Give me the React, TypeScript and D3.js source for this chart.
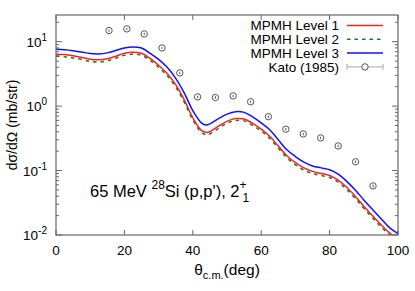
import React, { useEffect, useRef } from 'react';
import * as d3 from 'd3';

// angles (deg) for the calculated curves
const theta = [0, 2.5, 5, 7.5, 10, 12.5, 15, 17.5, 20, 22.5, 25, 27.5, 30, 32.5, 35, 37.5, 40, 42.5, 44, 45, 47.5, 50, 52.5, 55, 57.5, 60, 62.5, 65, 67.5, 70, 72.5, 75, 77.5, 80, 82.5, 85, 87.5, 90, 92.5, 95, 97.5, 100];
const level1 = [6.4, 6.3, 6.05, 5.7, 5.35, 5.25, 5.45, 5.95, 6.6, 6.85, 6.6, 5.5, 4.3, 3.2, 2.15, 1.25, 0.66, 0.42, 0.39, 0.40, 0.49, 0.58, 0.64, 0.63, 0.54, 0.44, 0.34, 0.24, 0.17, 0.133, 0.110, 0.097, 0.090, 0.084, 0.071, 0.055, 0.040, 0.028, 0.020, 0.0145, 0.0108, 0.0085];
const level2 = [5.95, 5.85, 5.6, 5.3, 4.95, 4.85, 5.05, 5.55, 6.15, 6.4, 6.15, 5.1, 4.0, 2.95, 1.98, 1.15, 0.61, 0.39, 0.36, 0.37, 0.45, 0.54, 0.6, 0.59, 0.5, 0.41, 0.315, 0.222, 0.158, 0.123, 0.102, 0.090, 0.084, 0.078, 0.066, 0.051, 0.037, 0.026, 0.0186, 0.0134, 0.0100, 0.0079];
const level3 = [7.6, 7.5, 7.25, 6.9, 6.55, 6.45, 6.7, 7.3, 8.0, 8.3, 8.0, 6.6, 5.3, 4.0, 2.7, 1.6, 0.85, 0.55, 0.51, 0.53, 0.64, 0.75, 0.82, 0.80, 0.68, 0.55, 0.43, 0.30, 0.21, 0.165, 0.135, 0.118, 0.110, 0.103, 0.088, 0.068, 0.050, 0.035, 0.025, 0.018, 0.013, 0.0105];

// Kato (1985) data
const katoAngle = [15.5, 20.7, 25.8, 31.0, 36.2, 41.4, 46.6, 51.8, 56.9, 62.1, 67.2, 72.3, 77.4, 82.5, 87.6, 92.7];
const katoValue = [14.9, 15.8, 13.2, 8.0, 3.28, 1.39, 1.36, 1.44, 1.17, 0.687, 0.438, 0.370, 0.321, 0.241, 0.137, 0.0577];
const katoError = [0.6, 0.6, 0.5, 0.3, 0.13, 0.06, 0.06, 0.06, 0.05, 0.03, 0.02, 0.016, 0.014, 0.011, 0.006, 0.003];

const xTicks = [0, 20, 40, 60, 80, 100];
const yTicks = [0.01, 0.1, 1, 10];
const yTickExp = ['-2', '-1', '0', '1'];

const series = [
  { name: 'MPMH Level 1', values: level1, color: '#ff2020', dash: null },
  { name: 'MPMH Level 2', values: level2, color: '#1f7a1f', dash: '3.5,4' },
  { name: 'MPMH Level 3', values: level3, color: '#1010ff', dash: null },
];

const W = 415, H = 291;
const FONT = '"Liberation Sans", Arial, sans-serif';

export default function App() {
  const ref = useRef<SVGSVGElement>(null);

  useEffect(() => {
    const svg = d3.select(ref.current);
    svg.selectAll('*').remove();

    const left = 56, right = 398, top = 15, bottom = 235;
    const x = d3.scaleLinear().domain([0, 100]).range([left, right]);
    const y = d3.scaleLog().domain([0.01, Math.pow(10, 1.414)]).range([bottom, top]);
    const frame = '#666';

    svg.append('defs').append('clipPath').attr('id', 'plotclip')
      .append('rect').attr('x', left).attr('y', top).attr('width', right - left).attr('height', bottom - top);

    // x ticks (bottom and top, inward)
    xTicks.forEach(t => {
      svg.append('line').attr('x1', x(t)).attr('x2', x(t)).attr('y1', bottom).attr('y2', bottom - 5)
        .attr('stroke', frame).attr('stroke-width', 1);
      svg.append('line').attr('x1', x(t)).attr('x2', x(t)).attr('y1', top).attr('y2', top + 5)
        .attr('stroke', frame).attr('stroke-width', 1);
      svg.append('text').attr('x', x(t)).attr('y', bottom + 20).attr('text-anchor', 'middle')
        .style('font-family', FONT).style('font-size', '13.5px').text(t);
    });

    // y ticks, major and minor on both sides
    const minors: number[] = [];
    for (let e = -2; e <= 1; e++) {
      for (let m = 2; m <= 9; m++) {
        const v = m * Math.pow(10, e);
        if (y(v) >= top) minors.push(v);
      }
    }
    minors.forEach(v => {
      svg.append('line').attr('x1', left).attr('x2', left + 3).attr('y1', y(v)).attr('y2', y(v))
        .attr('stroke', frame).attr('stroke-width', 1);
      svg.append('line').attr('x1', right).attr('x2', right - 3).attr('y1', y(v)).attr('y2', y(v))
        .attr('stroke', frame).attr('stroke-width', 1);
    });
    yTicks.forEach((t, i) => {
      svg.append('line').attr('x1', left).attr('x2', left + 6).attr('y1', y(t)).attr('y2', y(t))
        .attr('stroke', frame).attr('stroke-width', 1);
      svg.append('line').attr('x1', right).attr('x2', right - 6).attr('y1', y(t)).attr('y2', y(t))
        .attr('stroke', frame).attr('stroke-width', 1);
      const txt = svg.append('text').attr('x', left - 9).attr('y', y(t) + 5).attr('text-anchor', 'end')
        .style('font-family', FONT).style('font-size', '13.5px');
      txt.append('tspan').text('10');
      txt.append('tspan').attr('dy', -6).style('font-size', '10px').text(yTickExp[i]);
    });

    // curves
    const plot = svg.append('g').attr('clip-path', 'url(#plotclip)');
    series.forEach(s => {
      const line = d3.line<number>()
        .x((_, i) => x(theta[i]))
        .y(d => y(d))
        .curve(d3.curveCatmullRom.alpha(0.5));
      plot.append('path').datum(s.values).attr('d', line)
        .attr('fill', 'none').attr('stroke', s.color).attr('stroke-width', 1.5)
        .attr('stroke-dasharray', s.dash);
    });

    // data points
    const pts = plot.selectAll('g.pt').data(katoAngle).enter().append('g');
    pts.append('line')
      .attr('x1', d => x(d)).attr('x2', d => x(d))
      .attr('y1', (_, i) => y(katoValue[i] + katoError[i]))
      .attr('y2', (_, i) => y(katoValue[i] - katoError[i]))
      .attr('stroke', '#555').attr('stroke-width', 1);
    pts.append('circle')
      .attr('cx', d => x(d)).attr('cy', (_, i) => y(katoValue[i]))
      .attr('r', 3.2).attr('fill', 'none').attr('stroke', '#555').attr('stroke-width', 1);

    // frame
    svg.append('rect').attr('x', left).attr('y', top).attr('width', right - left).attr('height', bottom - top)
      .attr('fill', 'none').attr('stroke', frame).attr('stroke-width', 1.2);

    // legend
    const legY = [25.5, 39.3, 53.1, 66.9];
    series.forEach((s, i) => {
      svg.append('text').attr('x', 339).attr('y', legY[i]).attr('dy', '0.35em').attr('text-anchor', 'end')
        .style('font-family', FONT).style('font-size', '13.5px').text(s.name);
      svg.append('line').attr('x1', 347).attr('x2', 383).attr('y1', legY[i]).attr('y2', legY[i])
        .attr('stroke', s.color).attr('stroke-width', 1.5).attr('stroke-dasharray', s.dash);
    });
    svg.append('text').attr('x', 339).attr('y', legY[3]).attr('dy', '0.35em').attr('text-anchor', 'end')
      .style('font-family', FONT).style('font-size', '13.5px').text('Kato (1985)');
    svg.append('line').attr('x1', 347).attr('x2', 383).attr('y1', legY[3]).attr('y2', legY[3])
      .attr('stroke', '#aaa').attr('stroke-width', 1);
    [347, 383].forEach(px => {
      svg.append('line').attr('x1', px).attr('x2', px).attr('y1', legY[3] - 3).attr('y2', legY[3] + 3)
        .attr('stroke', '#aaa').attr('stroke-width', 1);
    });
    svg.append('circle').attr('cx', 365).attr('cy', legY[3]).attr('r', 3.2)
      .attr('fill', 'white').attr('stroke', '#555').attr('stroke-width', 1);

    // annotation
    const ann = svg.append('text').attr('x', 90).attr('y', 197)
      .style('font-family', FONT).style('font-size', '16.5px');
    ann.append('tspan').text('65 MeV ');
    ann.append('tspan').attr('dy', -8).style('font-size', '12px').text('28');
    ann.append('tspan').attr('dy', 8).text("Si (p,p'), 2");
    ann.append('tspan').attr('dy', -8).style('font-size', '12px').text('+');
    ann.append('tspan').attr('dx', -4).attr('dy', 13).style('font-size', '12px').text('1');

    // axis labels
    const xl = svg.append('text').attr('x', 227).attr('y', 275).attr('text-anchor', 'middle')
      .style('font-family', FONT).style('font-size', '15.5px');
    xl.append('tspan').text('θ');
    xl.append('tspan').attr('dy', 4).style('font-size', '11px').text('c.m.');
    xl.append('tspan').attr('dy', -4).text('(deg)');

    svg.append('text').attr('transform', `translate(17,${(top + bottom) / 2}) rotate(-90)`)
      .attr('text-anchor', 'middle')
      .style('font-family', FONT).style('font-size', '14px').text('dσ/dΩ (mb/str)');
  }, []);

  return (
    <svg ref={ref} width={W} height={H}
      style={{ position: 'absolute', left: 0, top: 0, background: 'white' }} />
  );
}
